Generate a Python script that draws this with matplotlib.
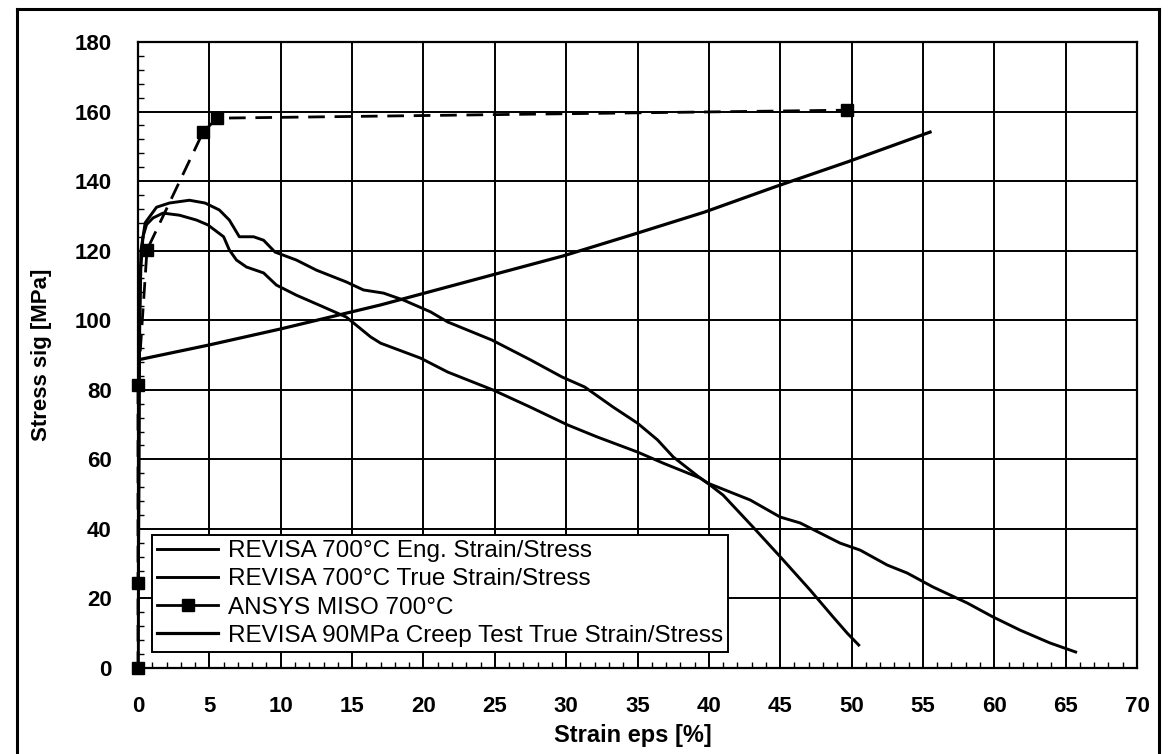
import matplotlib
matplotlib.use("Agg")
import matplotlib.pyplot as plt
from matplotlib.lines import Line2D
from matplotlib.ticker import MultipleLocator

plt.rcParams['font.family'] = ['Liberation Sans', 'DejaVu Sans']

# REVISA 700°C tensile test, engineering strain / stress
eng_strain = [0.0, 0.04, 0.08, 0.12, 0.2, 0.35, 0.6, 1.05, 1.75, 2.9, 4.1, 4.9, 6.0, 6.4,
              6.9, 7.6, 8.8, 9.7, 11.1, 13.0, 14.6, 16.3, 17.0, 19.8, 21.7, 24.9, 27.5,
              30.1, 32.2, 35.0, 36.8, 39.4, 39.9, 42.9, 45.0, 46.4, 49.2, 50.6, 52.5,
              53.9, 55.7, 58.1, 59.9, 61.8, 63.9, 65.7]
eng_stress = [0.0, 35.0, 75.0, 100.0, 115.0, 124.0, 127.5, 129.4, 130.8, 130.2, 128.8,
              127.4, 124.0, 120.2, 117.3, 115.3, 113.6, 110.1, 107.2, 103.8, 100.9, 95.2,
              93.4, 89.1, 85.1, 79.9, 75.0, 69.9, 66.4, 62.1, 58.9, 54.6, 53.2, 48.3, 43.4,
              41.7, 35.9, 33.9, 29.6, 27.3, 23.3, 18.7, 14.7, 10.9, 7.2, 4.6]

# REVISA 700°C tensile test, true strain / stress
true_strain = [0.0, 0.04, 0.08, 0.12, 0.2, 0.5, 1.3, 2.2, 3.6, 4.7, 5.7, 6.4, 7.1, 8.1,
               8.8, 9.6, 11.1, 12.5, 14.6, 15.8, 17.2, 18.6, 20.5, 21.7, 24.8, 27.5, 29.7,
               31.3, 33.3, 35.0, 36.4, 37.5, 39.4, 39.9, 41.0, 43.1, 45.0, 47.1, 48.7,
               49.7, 50.5]
true_stress = [0.0, 35.0, 75.0, 102.0, 120.0, 128.0, 132.5, 133.7, 134.5, 133.7, 131.7,
               128.8, 124.0, 124.0, 123.0, 119.6, 117.3, 114.4, 111.0, 108.7, 107.8, 105.8,
               102.4, 99.5, 94.3, 88.6, 83.7, 80.8, 75.0, 70.4, 65.6, 60.7, 54.6, 53.2,
               49.7, 40.5, 32.0, 22.4, 14.7, 10.0, 6.6]

# ANSYS multilinear isotropic hardening (MISO) input points
miso_strain = [0.0, 0.0, 0.0, 0.63, 4.56, 5.54, 49.7]
miso_stress = [0.0, 24.4, 81.4, 120.2, 154.1, 158.1, 160.4]

# REVISA 90 MPa creep test, true strain / stress
creep_strain = [0.0, 5.0, 10.0, 17.0, 24.8, 29.8, 34.8, 39.7, 44.6, 49.7, 55.5]
creep_stress = [88.6, 92.9, 97.5, 104.4, 113.0, 118.5, 124.8, 131.1, 138.3, 145.5, 154.1]

labels = ["REVISA 700°C Eng. Strain/Stress",
          "REVISA 700°C True Strain/Stress",
          "ANSYS MISO 700°C",
          "REVISA 90MPa Creep Test True Strain/Stress"]

fig = plt.figure(figsize=(11.69, 7.54), dpi=100)
ax = fig.add_axes([138 / 1169, 1 - 668 / 754, 999 / 1169, 626 / 754])

ax.plot(eng_strain, eng_stress, color='black', lw=2.1, label=labels[0], zorder=3)
ax.plot(true_strain, true_stress, color='black', lw=2.1, label=labels[1], zorder=3)
ax.plot(miso_strain, miso_stress, color='black', lw=2.0, ls=(0, (6, 3.5)),
        marker='s', markersize=8.5, label=labels[2], zorder=4, clip_on=False)
ax.plot(creep_strain, creep_stress, color='black', lw=2.3, label=labels[3], zorder=3)

ax.set_xlim(0, 70)
ax.set_ylim(0, 180)
ax.xaxis.set_major_locator(MultipleLocator(5))
ax.xaxis.set_minor_locator(MultipleLocator(1))
ax.yaxis.set_major_locator(MultipleLocator(20))
ax.yaxis.set_minor_locator(MultipleLocator(4))
ax.grid(True, which='major', color='black', lw=1.4)
ax.tick_params(which='major', length=0, labelsize=16)
ax.tick_params(axis='x', which='major', pad=20)
ax.tick_params(axis='y', which='major', pad=19)
ax.tick_params(which='minor', direction='in', length=4, width=1, color='black')
for lab in ax.get_xticklabels() + ax.get_yticklabels():
    lab.set_fontweight('bold')
for sp in ax.spines.values():
    sp.set_linewidth(1.6)
    sp.set_color('black')

ax.set_xlabel("Strain eps [%]", fontsize=17, fontweight='bold')
ax.set_ylabel("Stress sig [MPa]", fontsize=16, fontweight='bold')
ax.xaxis.set_label_coords(0.495, -0.09)
ax.yaxis.set_label_coords(-0.086, 0.5)

leg = ax.legend(loc='lower left', bbox_to_anchor=(0.014, 0.0256), borderaxespad=0,
                fontsize=17.5, fancybox=False, framealpha=1, edgecolor='black',
                handlelength=2.5, handletextpad=0.4, labelspacing=0.25, borderpad=0.22)
leg.get_frame().set_linewidth(1.4)
for h in leg.get_lines():
    if h.get_marker() == 's':
        h.set_linestyle('-')

# outer border around the chart area
border_kw = dict(color='black', lw=2.2, transform=fig.transFigure)
fig.add_artist(Line2D([17 / 1169, 17 / 1169], [0, 1 - 9 / 754], **border_kw))
fig.add_artist(Line2D([17 / 1169, 1159 / 1169], [1 - 9 / 754, 1 - 9 / 754], **border_kw))
fig.add_artist(Line2D([1159 / 1169, 1159 / 1169], [0, 1 - 9 / 754], **border_kw))

fig.savefig("out.png", dpi=100)
